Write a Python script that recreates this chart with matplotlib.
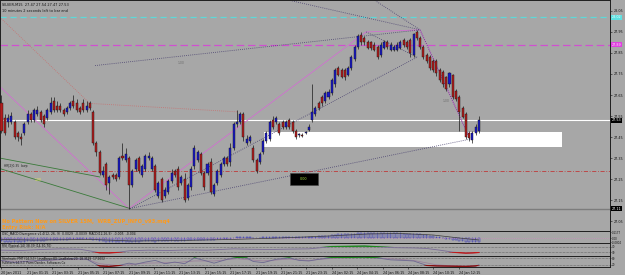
import matplotlib
matplotlib.use('Agg')
import matplotlib.pyplot as plt
from matplotlib.patches import Rectangle
import numpy as np

# ---------------- data ----------------
opens = [27.61, 27.54, 27.52, 27.52, 27.52, 27.47, 27.45, 27.47, 27.52, 27.56,
         27.53, 27.56, 27.57, 27.55, 27.54, 27.57, 27.62, 27.60, 27.60, 27.58,
         27.57, 27.59, 27.62, 27.61, 27.59, 27.61, 27.58, 27.61, 27.57, 27.42,
         27.38, 27.27, 27.32, 27.23, 27.27, 27.27, 27.26, 27.36, 27.34, 27.35,
         27.22, 27.30, 27.35, 27.27, 27.30, 27.35, 27.30, 27.31, 27.17, 27.25,
         27.17, 27.19, 27.24, 27.29, 27.30, 27.23, 27.25, 27.16, 27.21, 27.31,
         27.34, 27.37, 27.28, 27.28, 27.33, 27.18, 27.23, 27.27, 27.32, 27.35,
         27.33, 27.40, 27.51, 27.52, 27.56, 27.42, 27.43, 27.40, 27.34, 27.33,
         27.38, 27.43, 27.44, 27.53, 27.52, 27.51, 27.52, 27.50, 27.53, 27.52,
         27.48, 27.46, 27.46, 27.47, 27.485, 27.53, 27.56, 27.61, 27.64, 27.62,
         27.64, 27.66, 27.70, 27.78, 27.77, 27.77, 27.745, 27.78, 27.82, 27.88,
         27.935, 27.92, 27.90, 27.90, 27.89, 27.88, 27.84, 27.875, 27.90, 27.865,
         27.865, 27.865, 27.875, 27.91, 27.90, 27.91, 27.84, 27.95, 27.92, 27.88,
         27.84, 27.83, 27.81, 27.81, 27.77, 27.76, 27.735, 27.70, 27.745, 27.67,
         27.64, 27.59, 27.56, 27.47, 27.435, 27.47, 27.48]
highs = [27.65, 27.56, 27.56, 27.57, 27.53, 27.48, 27.47, 27.52, 27.58, 27.57,
         27.59, 27.60, 27.58, 27.56, 27.59, 27.64, 27.64, 27.62, 27.61, 27.59,
         27.60, 27.62, 27.65, 27.63, 27.60, 27.63, 27.62, 27.62, 27.58, 27.43,
         27.39, 27.31, 27.33, 27.27, 27.28, 27.28, 27.36, 27.42, 27.40, 27.36,
         27.30, 27.35, 27.36, 27.32, 27.37, 27.38, 27.36, 27.32, 27.24, 27.26,
         27.21, 27.25, 27.30, 27.30, 27.31, 27.27, 27.28, 27.23, 27.31, 27.41,
         27.39, 27.38, 27.29, 27.33, 27.35, 27.23, 27.30, 27.33, 27.36, 27.36,
         27.42, 27.52, 27.58, 27.57, 27.57, 27.46, 27.46, 27.41, 27.35, 27.38,
         27.44, 27.48, 27.53, 27.55, 27.55, 27.52, 27.53, 27.53, 27.54, 27.53,
         27.49, 27.47, 27.47, 27.48, 27.51, 27.70, 27.60, 27.62, 27.65, 27.67,
         27.68, 27.73, 27.78, 27.79, 27.78, 27.78, 27.79, 27.84, 27.89, 27.94,
         27.95, 27.93, 27.91, 27.905, 27.90, 27.89, 27.90, 27.91, 27.91, 27.90,
         27.89, 27.90, 27.91, 27.92, 27.91, 27.92, 27.945, 27.96, 27.93, 27.89,
         27.85, 27.84, 27.82, 27.82, 27.78, 27.77, 27.74, 27.76, 27.75, 27.68,
         27.65, 27.60, 27.57, 27.48, 27.48, 27.51, 27.55]
lows = [27.47, 27.46, 27.50, 27.51, 27.44, 27.43, 27.41, 27.46, 27.51, 27.52,
        27.52, 27.55, 27.52, 27.50, 27.53, 27.56, 27.57, 27.57, 27.57, 27.55,
        27.56, 27.58, 27.59, 27.57, 27.56, 27.57, 27.57, 27.58, 27.41, 27.36,
        27.27, 27.26, 27.20, 27.18, 27.25, 27.24, 27.25, 27.34, 27.33, 27.11,
        27.21, 27.29, 27.28, 27.26, 27.29, 27.34, 27.29, 27.19, 27.16, 27.14,
        27.16, 27.18, 27.23, 27.26, 27.20, 27.22, 27.14, 27.15, 27.20, 27.30,
        27.33, 27.27, 27.20, 27.27, 27.18, 27.17, 27.22, 27.26, 27.31, 27.31,
        27.31, 27.39, 27.50, 27.51, 27.43, 27.41, 27.42, 27.33, 27.28, 27.32,
        27.37, 27.42, 27.43, 27.49, 27.51, 27.46, 27.49, 27.49, 27.49, 27.47,
        27.44, 27.45, 27.45, 27.465, 27.48, 27.52, 27.55, 27.58, 27.60, 27.61,
        27.63, 27.65, 27.69, 27.74, 27.73, 27.72, 27.74, 27.77, 27.81, 27.87,
        27.89, 27.89, 27.87, 27.865, 27.86, 27.82, 27.83, 27.87, 27.87, 27.86,
        27.86, 27.86, 27.87, 27.88, 27.87, 27.83, 27.83, 27.91, 27.87, 27.82,
        27.80, 27.77, 27.76, 27.74, 27.71, 27.69, 27.67, 27.69, 27.63, 27.62,
        27.48, 27.54, 27.44, 27.43, 27.42, 27.46, 27.47]
closes = [27.48, 27.47, 27.54, 27.55, 27.45, 27.45, 27.44, 27.51, 27.56, 27.53,
          27.58, 27.58, 27.53, 27.51, 27.58, 27.61, 27.58, 27.58, 27.58, 27.56,
          27.59, 27.61, 27.60, 27.58, 27.57, 27.58, 27.60, 27.59, 27.42, 27.38,
          27.28, 27.29, 27.22, 27.26, 27.26, 27.25, 27.35, 27.35, 27.37, 27.22,
          27.29, 27.34, 27.29, 27.31, 27.36, 27.36, 27.35, 27.20, 27.23, 27.15,
          27.20, 27.24, 27.28, 27.27, 27.21, 27.26, 27.15, 27.22, 27.30, 27.40,
          27.38, 27.28, 27.21, 27.32, 27.19, 27.22, 27.29, 27.32, 27.35, 27.32,
          27.40, 27.51, 27.52, 27.56, 27.45, 27.44, 27.45, 27.34, 27.29, 27.37,
          27.43, 27.47, 27.52, 27.50, 27.54, 27.47, 27.50, 27.52, 27.50, 27.48,
          27.45, 27.46, 27.455, 27.475, 27.50, 27.57, 27.59, 27.59, 27.61, 27.66,
          27.665, 27.72, 27.77, 27.745, 27.735, 27.735, 27.78, 27.83, 27.88, 27.93,
          27.90, 27.90, 27.875, 27.875, 27.865, 27.83, 27.89, 27.90, 27.88, 27.89,
          27.88, 27.89, 27.90, 27.89, 27.88, 27.85, 27.94, 27.92, 27.88, 27.83,
          27.81, 27.78, 27.77, 27.755, 27.72, 27.70, 27.68, 27.755, 27.64, 27.63,
          27.57, 27.545, 27.45, 27.445, 27.47, 27.50, 27.53]

price_ticks = [27.05, 27.15, 27.25, 27.35, 27.45, 27.55, 27.65, 27.75, 27.85, 27.95, 28.05]
time_labels = ["20 Jan 2011", "21 Jan 01:15", "21 Jan 03:15", "21 Jan 05:15", "21 Jan 07:15",
               "21 Jan 09:15", "21 Jan 11:15", "21 Jan 13:15", "21 Jan 15:15", "21 Jan 17:15",
               "21 Jan 19:15", "21 Jan 21:15", "21 Jan 23:15", "24 Jan 02:15", "24 Jan 04:15",
               "24 Jan 06:15", "24 Jan 08:15", "24 Jan 10:15", "24 Jan 12:15"]

# horizontal levels
cyan_level = 28.02
magenta_level = 27.89
white_level = 27.53
red_level = 27.29
bid_level = 27.11

# trend lines as (bar, price) vertices
salmon_path = [(-0.5, 28.02), (27, 27.61), (72, 27.57)]
zigzag_path = [(-0.5, 27.69), (39, 27.11), (111.5, 27.95), (128, 27.96), (143.3, 27.44)]
purple_lines = [[(28.6, 27.79), (128, 27.96)],
                [(128, 27.96), (143.3, 27.44)],
                [(39.3, 27.11), (143.3, 27.44)],
                [(39.3, 27.11), (127.1, 27.83)],
                [(111.5, 27.95), (127.1, 27.83)],
                [(88.2, 28.10), (128, 27.96)],
                [(114.2, 28.10), (128, 27.96)]]
green_lines = [[(-0.5, 27.35), (30.1, 27.26)],
               [(-0.5, 27.30), (39.3, 27.11)]]
white_zone = (80.3, 171.4, 27.402, 27.474)
black_box = (88.2, 96.8, 27.221, 27.279)

# indicator readings
macd_hist = [-0.06, -0.07, -0.07, -0.07, -0.08, -0.08, -0.07, -0.07, -0.06, -0.06,
             -0.05, -0.05, -0.05, -0.05, -0.04, -0.04, -0.03, -0.03, -0.03, -0.03,
             -0.03, -0.02, -0.02, -0.02, -0.02, -0.02, -0.02, -0.02,
             -0.03, -0.04, -0.05, -0.06, -0.07, -0.07, -0.08, -0.08, -0.07, -0.07,
             -0.08, -0.08, -0.07, -0.07, -0.07, -0.06, -0.06,
             -0.06, -0.06, -0.07, -0.06, -0.06, -0.05, -0.05, -0.05, -0.05, -0.05,
             -0.05, -0.05, -0.04, -0.03, -0.03, -0.03, -0.03, -0.03, -0.03, -0.03,
             -0.03, -0.02, -0.02, -0.02, -0.01, -0.01,
             0.01, 0.02, 0.02, 0.02, 0.02, 0.02, 0.01, 0.01, 0.01, 0.02,
             0.02, 0.03, 0.03, 0.03, 0.03, 0.03, 0.03, 0.03, 0.03, 0.03,
             0.02, 0.02, 0.02, 0.02, 0.03,
             0.03, 0.04, 0.04, 0.05, 0.05, 0.06, 0.07, 0.08, 0.09, 0.09,
             0.09, 0.09, 0.09, 0.10, 0.10, 0.11, 0.11, 0.11, 0.11, 0.11,
             0.11, 0.11, 0.10, 0.10, 0.10, 0.10, 0.10, 0.09, 0.09, 0.09,
             0.08, 0.09, 0.08, 0.07, 0.06, 0.05, 0.04, 0.03, 0.02, 0.01,
             -0.01, -0.02, -0.03, -0.04, -0.05, -0.06, -0.07, -0.08, -0.08, -0.08, -0.08]
macd_sig_idx = [0, 10, 28, 40, 55, 70, 85, 100, 112, 122, 132, 140, 146]
macd_sig = [-0.03, -0.04, -0.03, -0.06, -0.05, -0.03, 0.0, 0.04, 0.08, 0.09, 0.06, 0.0, -0.04]

rsi_idx = [0, 6, 12, 18, 24, 28, 30, 33, 36, 39, 45, 51, 57, 63, 71, 76, 82, 88, 94, 101,
           106, 111, 115, 120, 126, 130, 134, 138, 142, 144, 146]
rsi_vals = [45, 42, 50, 55, 52, 35, 25, 24, 30, 40, 45, 42, 47, 45, 55, 52, 50, 53, 55, 72,
            74, 76, 71, 64, 62, 58, 45, 30, 22, 24, 28]

stoch_idx = [0, 4, 9, 13, 18, 22, 26, 28, 30, 33, 36, 39, 41, 44, 47, 50, 53, 56, 59, 62,
             65, 69, 72, 75, 77, 80, 84, 88, 91, 94, 97, 101, 107, 111, 115, 119, 123, 126, 130, 133,
             137, 142, 145, 146]
stoch_k = [60, 40, 55, 60, 70, 75, 72, 40, 10, 5, 15, 35, 25, 45, 60, 30, 45, 30, 82, 60,
           35, 70, 85, 82, 50, 40, 70, 82, 60, 55, 70, 85, 88, 90, 82, 65, 60, 55, 15, 10,
           8, 5, 10, 20]
stoch_d_idx = [0, 9, 18, 26, 30, 36, 44, 53, 59, 65, 72, 80, 88, 94, 101, 111, 119, 126, 133, 140, 146]
stoch_d = [55, 52, 65, 72, 30, 12, 35, 40, 55, 55, 75, 55, 72, 60, 78, 88, 75, 60, 20, 8, 10]

# ---------------- drawing ----------------
W, H = 625, 275
BG = '#a7a7a7'
fig = plt.figure(figsize=(W / 100, H / 100), dpi=100, facecolor=BG)
plot_w = 610 / W
bar_px = 3.27
x_left = -1.5 / bar_px
x_right = (610 - 1.5) / bar_px


def pane(top_px, bot_px):
    a = fig.add_axes([0, (H - bot_px) / H, plot_w, (bot_px - top_px) / H])
    a.set_facecolor(BG)
    a.set_xlim(x_left, x_right)
    for s in a.spines.values():
        s.set_color('#1e1e1e')
        s.set_linewidth(0.7)
    a.yaxis.tick_right()
    a.tick_params(axis='y', labelsize=2.4, length=1.5, width=0.4, pad=1, colors='#111111')
    a.set_xticks([])
    return a


ax = pane(0, 231)
ax.set_ylim(27.003, 28.102)
ax.set_yticks(price_ticks)
ax.set_yticklabels([f"{t:.2f}" for t in price_ticks])

n = len(closes)
xs = np.arange(n)
o = np.array(opens); h = np.array(highs); l = np.array(lows); c = np.array(closes)
up = c >= o

# zones
zx0, zx1, zy0, zy1 = white_zone
ax.add_patch(Rectangle((zx0, zy0), zx1 - zx0, zy1 - zy0, fc='white', ec='none', zorder=2))
bx0, bx1, by0, by1 = black_box
ax.add_patch(Rectangle((bx0, by0), bx1 - bx0, by1 - by0, fc='black', ec='#444444', lw=0.4, zorder=6))
ax.text((bx0 + bx1) / 2, (by0 + by1) / 2, '0.00', color='#a8e040', fontsize=2.4,
        ha='center', va='center', zorder=7)

# horizontal levels
ax.axhline(cyan_level, color='#5fd8d8', lw=0.9, ls=(0, (5, 3)), zorder=1)
ax.axhline(magenta_level, color='#d050d0', lw=0.9, ls=(0, (6, 3)), zorder=1)
ax.axhline(white_level, color='white', lw=0.8, zorder=1)
ax.axhline(red_level, color='#c03a3a', lw=0.6, ls=(0, (5, 2, 1, 2)), zorder=1)
ax.axhline(bid_level, color='#7c7c7c', lw=1.0, zorder=1)

# trend lines
sx, sy = zip(*salmon_path)
ax.plot(sx, sy, color='#c87070', lw=0.6, ls=(0, (1, 1.5)), zorder=2)
zx, zy = zip(*zigzag_path)
ax.plot(zx, zy, color='#d070d0', lw=0.6, zorder=2)
for seg in purple_lines:
    px, py = zip(*seg)
    ax.plot(px, py, color='#4a4270', lw=0.6, ls=(0, (1, 1.5)), zorder=2)
for seg in green_lines:
    gx, gy = zip(*seg)
    ax.plot(gx, gy, color='#3a7a3a', lw=0.6, zorder=2)

# candles
ax.vlines(xs, l, h, color='#1a1a1a', lw=0.5, zorder=3)
body_bot = np.minimum(o, c)
body_h = np.maximum(np.abs(c - o), 0.004)
ax.bar(xs, body_h, bottom=body_bot, width=0.62,
       color=np.where(up, '#1818c8', '#b41c1c'), edgecolor='#151515', linewidth=0.3, zorder=4)

# small texts in the chart
ax.text(0.8, 27.305, 'HR[2]0.35  bwp', fontsize=2.2, color='#222222', va='bottom', zorder=5)
ax.text(10, 27.245, '1.00', fontsize=2.2, color='#f0f050', va='center', zorder=5)
ax.text(54, 27.80, '1.00', fontsize=2.2, color='#6a6a6a', va='center', zorder=5)
ax.text(135, 27.62, '1.00', fontsize=2.2, color='#6a6a6a', va='center', zorder=5)

ax.text(0.004, 0.985, 'SILVER,M15  27.47 27.54 27.47 27.53', transform=ax.transAxes,
        fontsize=2.5, va='top', color='#111111')
ax.text(0.004, 0.962, '10 minutes 2 seconds left to bar end', transform=ax.transAxes,
        fontsize=2.5, va='top', color='#111111')

# right-side price labels in boxes
ytr = ax.get_yaxis_transform()
for val, fc, tc in [(cyan_level, '#5fe0e0', '#e8ffff'), (magenta_level, '#e040e0', '#ffe0ff'),
                    (white_level, '#000000', '#ffffff'), (bid_level, '#000000', '#ffffff')]:
    ax.text(1.003, val, f"{val:.2f}", transform=ytr, fontsize=2.4, ha='left', va='center',
            color=tc, clip_on=False, zorder=8,
            bbox=dict(boxstyle='square,pad=0.2', fc=fc, ec='none'))

# orange status text
fig.text(2 / W, 1 - 221 / H, 'No Pattern Now on SILVER 15M,  WRB_ZUP_INFO_v93.mq4',
         color='#ff9a1a', fontsize=3.7, fontweight='bold', va='center')
fig.text(2 / W, 1 - 228 / H, 'Entry Risk: N/A', color='#ff9a1a', fontsize=3.7,
         fontweight='bold', va='center')

# ---- MACD pane ----
am = pane(231, 243)
am.set_ylim(-0.10, 0.14)
am.bar(xs, macd_hist, width=0.5, fc='none', ec='#2a2ab8', lw=0.35)
am.axhline(0, color='#d088c0', lw=0.4, ls=(0, (2, 2)))
am.plot(macd_sig_idx, macd_sig, color='#3a3a3a', lw=0.5)
am.set_yticks([0.1177, 0.0, -0.0804])
am.set_yticklabels(['0.1177', '0.00', '-0.0804'])
am.tick_params(axis='y', labelsize=1.9, pad=0.6, length=1)
am.text(0.004, 0.92, 'OSC_MACD Divergence v1.4(12, 26, 9)  0.0029  -0.0039  MACD(12,26,9)  -0.005  -0.004',
        transform=am.transAxes, fontsize=2.2, va='top', color='#111111')

# ---- RSI pane ----
ar = pane(243, 256)
ar.set_ylim(0, 100)
ar.axhline(70, color='#333333', lw=0.4, ls=(0, (1, 1.5)))
ar.axhline(30, color='#333333', lw=0.4, ls=(0, (1, 1.5)))
ar.plot(rsi_idx, rsi_vals, color='#7a6c96', lw=0.6)
gl = ar.plot(rsi_idx, rsi_vals, color='#1e8a1e', lw=1.0)[0]
gl.set_clip_path(Rectangle((x_left, 70), x_right - x_left, 30, transform=ar.transData))
rl = ar.plot(rsi_idx, rsi_vals, color='#c01818', lw=1.0)[0]
rl.set_clip_path(Rectangle((x_left, 0), x_right - x_left, 30, transform=ar.transData))
ar.set_yticks([70, 30])
ar.set_yticklabels(['70', '30'])
ar.tick_params(axis='y', labelsize=2.0, pad=0.6, length=1)
ar.text(0.004, 0.9, 'RSI (Typical,14) 38.39 (14,30,70)', transform=ar.transAxes,
        fontsize=2.2, va='top', color='#111111')

# ---- Stochastic pane ----
ast = pane(256, 267)
ast.set_ylim(0, 100)
ast.axhline(80, color='#333333', lw=0.4, ls=(0, (1, 1.5)))
ast.axhline(20, color='#333333', lw=0.4, ls=(0, (1, 1.5)))
ast.plot(stoch_d_idx, stoch_d, color='#9a7a9a', lw=0.5)
ast.plot(stoch_idx, stoch_k, color='#6c6890', lw=0.6)
g2 = ast.plot(stoch_idx, stoch_k, color='#1e8a1e', lw=1.0)[0]
g2.set_clip_path(Rectangle((x_left, 80), x_right - x_left, 20, transform=ast.transData))
r2 = ast.plot(stoch_idx, stoch_k, color='#8a1010', lw=1.0)[0]
r2.set_clip_path(Rectangle((x_left, 0), x_right - x_left, 20, transform=ast.transData))
ast.set_yticks([80, 20])
ast.set_yticklabels(['80', '20'])
ast.tick_params(axis='y', labelsize=2.0, pad=0.6, length=1)
ast.text(0.004, 0.95, 'Stochastic FMT (14,3,3)  LineAbove:80  LineBelow:20  18.3529  17.5002',
         transform=ast.transAxes, fontsize=2.1, va='top', color='#111111')
ast.text(0.004, 0.55, 'Fullstoch 14,3,3  Parm Oxnder, Softwares Co',
         transform=ast.transAxes, fontsize=2.1, va='top', color='#111111')

# time axis
step = 7.77
tpos = [k * step for k in range(len(time_labels))]
ast.set_xticks(tpos)
ast.set_xticklabels(time_labels)
ast.tick_params(axis='x', labelsize=2.4, length=1.5, width=0.4, pad=1.2, colors='#111111')
for lab in ast.get_xticklabels():
    lab.set_horizontalalignment('left')

fig.savefig('out.png', dpi=100, facecolor=BG)
